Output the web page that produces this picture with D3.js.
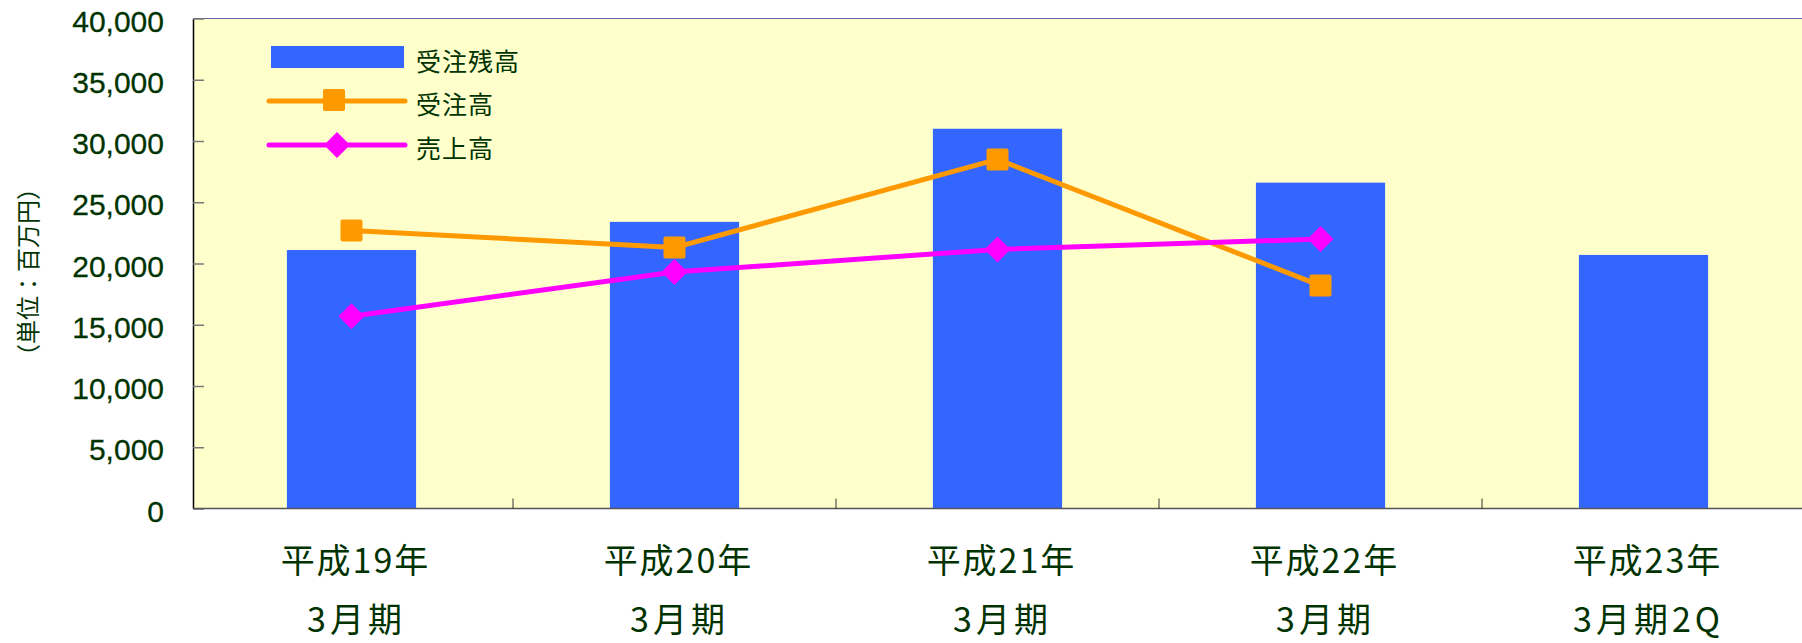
<!DOCTYPE html>
<html>
<head>
<meta charset="utf-8">
<script src="https://cdn.jsdelivr.net/npm/d3@7"></script>
<style>
  body { margin: 0; background: #fff; }
  svg { display: block; }
  .jp { font-family: "Noto Sans CJK JP", sans-serif; fill: #003300; }
  .num { font-family: "Liberation Sans", Arial, sans-serif; fill: #003300; }
</style>
</head>
<body>
<svg id="chart" width="1802" height="643"></svg>
<script>
// data
var periods = ["平成19年", "平成20年", "平成21年", "平成22年", "平成23年"];
var periodSub = ["3月期", "3月期", "3月期", "3月期", "3月期2Q"];
var backlog = [21100, 23400, 31000, 26600, 20700];   // 受注残高
var orders = [22700, 21300, 28500, 18200, null];     // 受注高
var sales = [15700, 19300, 21150, 22000, null];      // 売上高
var yTicks = [0, 5000, 10000, 15000, 20000, 25000, 30000, 35000, 40000];
var seriesNames = ["受注残高", "受注高", "売上高"];

var blue = "#3366ff", orange = "#ff9900", pink = "#ff00ff";

var svg = d3.select("#chart");

// scales
var x = d3.scaleBand().domain(periods).range([190, 1805]).padding(0);
var y = d3.scaleLinear().domain([0, 40000]).range([508.5, 18.5]);

// plot background
svg.append("rect")
  .attr("x", 193).attr("y", y(40000))
  .attr("width", 1700).attr("height", y(0) - y(40000))
  .attr("fill", "#ffffcc");

// top border
svg.append("line")
  .attr("x1", 193).attr("x2", 1802)
  .attr("y1", y(40000)).attr("y2", y(40000))
  .attr("stroke", "#6666aa").attr("stroke-width", 1.2);

// bars
var barW = x.bandwidth() * 0.4;
svg.selectAll(".bar")
  .data(backlog)
  .enter().append("rect")
    .attr("class", "bar")
    .attr("x", function(d, i) { return x(periods[i]) + x.bandwidth() / 2 - barW / 2; })
    .attr("y", function(d) { return y(d); })
    .attr("width", barW)
    .attr("height", function(d) { return y(0) - y(d); })
    .attr("fill", blue);

// y axis
var yAxis = svg.append("g")
  .attr("transform", "translate(193,0)")
  .call(d3.axisLeft(y).tickValues(yTicks).tickSizeInner(-11).tickSizeOuter(0).tickPadding(29)
    .tickFormat(d3.format(",")));
yAxis.select(".domain").attr("stroke", "#000").attr("stroke-width", 1.5);
yAxis.selectAll(".tick line").attr("stroke", "#777").attr("stroke-width", 1.5);
yAxis.selectAll(".tick text")
  .attr("class", "num")
  .attr("font-size", 30)
  .attr("dy", "0.42em")
  .attr("fill", "#003300")
  .attr("stroke", "#003300").attr("stroke-width", 0.3);

// x axis line + boundary ticks
svg.append("line")
  .attr("x1", 193).attr("x2", 1802)
  .attr("y1", y(0)).attr("y2", y(0))
  .attr("stroke", "#555").attr("stroke-width", 1.5);
svg.selectAll(".xtick")
  .data(periods.slice(1))
  .enter().append("line")
    .attr("class", "xtick")
    .attr("x1", function(d) { return x(d); })
    .attr("x2", function(d) { return x(d); })
    .attr("y1", y(0) - 10).attr("y2", y(0))
    .attr("stroke", "#333").attr("stroke-width", 1);

// x labels
svg.selectAll(".xl1")
  .data(periods)
  .enter().append("text")
    .attr("class", "jp xl1")
    .attr("x", function(d) { return x(d) + x.bandwidth() / 2 + 4; })
    .attr("y", 573)
    .attr("text-anchor", "middle")
    .attr("font-size", 34)
    .attr("letter-spacing", 2)
    .text(function(d) { return d; });
svg.selectAll(".xl2")
  .data(periodSub)
  .enter().append("text")
    .attr("class", "jp xl2")
    .attr("x", function(d, i) { return x(periods[i]) + x.bandwidth() / 2 + 5; })
    .attr("y", 632)
    .attr("text-anchor", "middle")
    .attr("font-size", 34)
    .attr("letter-spacing", 4)
    .text(function(d) { return d; });

// y title
svg.append("text")
  .attr("class", "jp")
  .attr("transform", "translate(26,272) rotate(-90)")
  .attr("text-anchor", "middle")
  .attr("dominant-baseline", "central")
  .attr("font-size", 24)
  .text("（単位：百万円）");

// lines
function cx(i) { return x(periods[i]) + x.bandwidth() / 2; }
var line = d3.line()
  .defined(function(d) { return d != null; })
  .x(function(d, i) { return cx(i); })
  .y(function(d) { return y(d); });

svg.append("path").datum(orders)
  .attr("d", line).attr("fill", "none")
  .attr("stroke", orange).attr("stroke-width", 5).attr("stroke-linejoin", "round");
svg.append("path").datum(sales)
  .attr("d", line).attr("fill", "none")
  .attr("stroke", pink).attr("stroke-width", 5).attr("stroke-linejoin", "round");

var diamond = "M0,-13L13,0L0,13L-13,0Z";

svg.selectAll(".sq")
  .data(orders.filter(function(d) { return d != null; }))
  .enter().append("rect")
    .attr("class", "sq")
    .attr("x", function(d, i) { return cx(i) - 11; })
    .attr("y", function(d) { return y(d) - 11; })
    .attr("width", 22).attr("height", 22).attr("rx", 2)
    .attr("fill", orange);

svg.selectAll(".dm")
  .data(sales.filter(function(d) { return d != null; }))
  .enter().append("path")
    .attr("class", "dm")
    .attr("d", diamond)
    .attr("transform", function(d, i) { return "translate(" + cx(i) + "," + y(d) + ")"; })
    .attr("fill", pink);

// legend
var lg = svg.append("g");
lg.append("rect").attr("x", 271).attr("y", 46).attr("width", 133).attr("height", 22).attr("fill", blue);
lg.append("line").attr("x1", 269).attr("x2", 405).attr("y1", 101).attr("y2", 101)
  .attr("stroke", orange).attr("stroke-width", 5).attr("stroke-linecap", "round");
lg.append("rect").attr("x", 323).attr("y", 89).attr("width", 22).attr("height", 22).attr("rx", 2).attr("fill", orange);
lg.append("line").attr("x1", 269).attr("x2", 405).attr("y1", 145).attr("y2", 145)
  .attr("stroke", pink).attr("stroke-width", 5).attr("stroke-linecap", "round");
lg.append("path").attr("d", diamond).attr("transform", "translate(337,145)").attr("fill", pink);

lg.selectAll(".lt")
  .data(seriesNames)
  .enter().append("text")
    .attr("class", "jp lt")
    .attr("x", 416)
    .attr("y", function(d, i) { return [71, 114, 158][i]; })
    .attr("font-size", 25)
    .attr("letter-spacing", 1)
    .text(function(d) { return d; });
</script>
</body>
</html>
